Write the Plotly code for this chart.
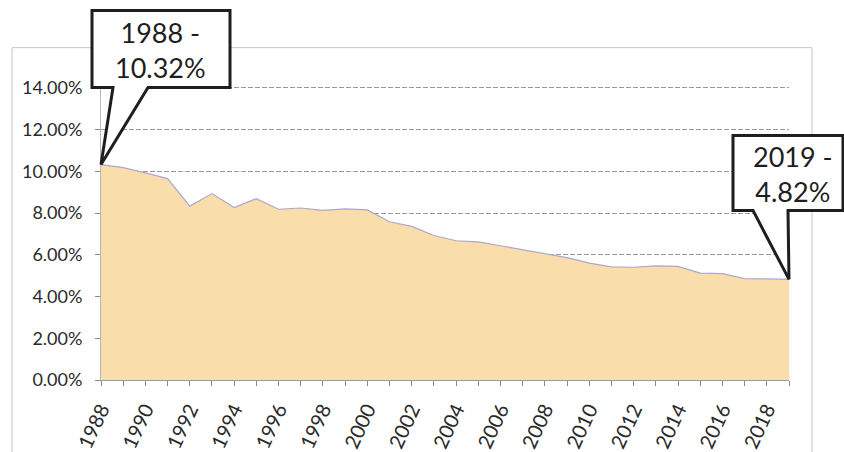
import plotly.graph_objects as go

# Annual share (%) 1988-2019
years = list(range(1988, 2020))
values = [10.32, 10.17, 9.92, 9.65, 8.33, 8.93, 8.26, 8.69, 8.18, 8.24,
          8.13, 8.20, 8.15, 7.58, 7.36, 6.92, 6.67, 6.62, 6.43, 6.24,
          6.05, 5.86, 5.60, 5.42, 5.40, 5.47, 5.44, 5.12, 5.10, 4.86,
          4.84, 4.82]
y_ticks = [0, 2, 4, 6, 8, 10, 12, 14]
y_tick_labels = [f"{v:.2f}%" for v in y_ticks]
x_ticks = years[:-1:2]
x_tick_labels = [str(y) for y in x_ticks]

X_RANGE = [years[0], years[-1]]
Y_RANGE = [0, 16]

FONT = "Lato"
FILL = "#F9DEAB"
LINE = "#A9A7D9"
INK = "#1E1E1E"

fig = go.Figure()
fig.add_trace(go.Scatter(
    x=years, y=values, mode="lines", fill="tozeroy",
    fillcolor=FILL, line=dict(color=LINE, width=1.2),
    hoverinfo="skip", showlegend=False,
))


def frac(v, rng):
    return (v - rng[0]) / (rng[1] - rng[0])


def callout(idx, path, text_dx, text_dy):
    """Speech-bubble callout whose tail points at the value for years[idx]."""
    xa = frac(years[idx], X_RANGE)
    ya = frac(values[idx], Y_RANGE)
    fig.add_shape(
        type="path", xref="x domain", yref="y domain",
        xsizemode="pixel", ysizemode="pixel", xanchor=xa, yanchor=ya,
        path=path, fillcolor="white", line=dict(color=INK, width=3),
        layer="above",
    )
    fig.add_annotation(
        x=years[idx], y=values[idx], xref="x", yref="y",
        xshift=text_dx, yshift=text_dy, showarrow=False,
        text=f"{years[idx]} -<br>{values[idx]:.2f}%",
        font=dict(family=FONT, size=27, color=INK), align="center",
    )


callout(0, "M -9,77 L 12,77 L 0,0 L 47,77 L 129,77 L 129,154 L -9,154 Z", 59, 115)
callout(-1, "M -56,69 L -36,69 L 0,0 L -1,69 L 54,69 L 54,144 L -56,144 Z", 4, 105)

# light frame around the chart area
fig.add_shape(
    type="rect", xref="paper", yref="paper",
    x0=-0.1294, x1=1.0334, y0=-0.4, y1=0.995,
    line=dict(color="#C4C4C4", width=1), layer="below",
)

fig.update_layout(
    width=844, height=452,
    margin=dict(l=101, r=55, t=46, b=72),
    paper_bgcolor="white", plot_bgcolor="white",
    font=dict(family=FONT, size=18, color="#2a2a2a"),
)
fig.update_xaxes(
    range=X_RANGE, tickmode="array", tickvals=x_ticks, ticktext=x_tick_labels,
    tickangle=-65, ticks="outside", ticklen=5, tickcolor="#8a8a8a",
    minor=dict(tickmode="array", tickvals=years, ticks="outside",
               ticklen=5, tickcolor="#8a8a8a"),
    showline=True, linecolor="#9a9a9a", linewidth=1,
    showgrid=False, zeroline=False, ticklabelstandoff=4, automargin=False,
    tickfont=dict(family=FONT, size=20, color="#2a2a2a"),
)
fig.update_yaxes(
    range=Y_RANGE, tickmode="array", tickvals=y_ticks, ticktext=y_tick_labels,
    ticks="outside", ticklen=5, tickcolor="#8a8a8a",
    showline=True, linecolor="#b8b8b8", linewidth=1,
    showgrid=True, gridcolor="#9a9a9a", gridwidth=1, griddash="5px,2px",
    zeroline=False, ticklabelstandoff=9, automargin=False,
    tickfont=dict(family=FONT, size=18, color="#2a2a2a"),
)

fig.write_html("out.html")
